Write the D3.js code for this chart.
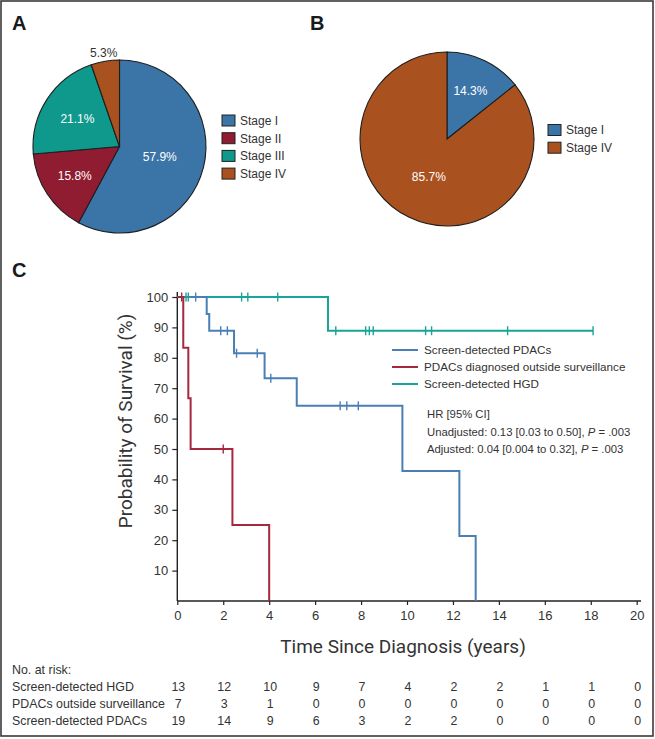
<!DOCTYPE html>
<html><head><meta charset="utf-8">
<script src="https://cdn.jsdelivr.net/npm/d3@7"></script>
<style>body{margin:0;background:#fff}svg{display:block}</style>
</head><body>
<svg id="c" width="655" height="739"></svg>
<script>
// ---- Data ----
const stagesA = ["Stage I","Stage II","Stage III","Stage IV"];
const valuesA = [57.9, 15.8, 21.1, 5.3];
const stagesB = ["Stage I","Stage IV"];
const valuesB = [14.3, 85.7];
const stageColors = {"Stage I":"#3b74a7","Stage II":"#8f1c30","Stage III":"#0f998c","Stage IV":"#a9521f"};

const seriesNames = ["Screen-detected PDACs","PDACs diagnosed outside surveillance","Screen-detected HGD"];
const seriesColors = ["#4a7fb6","#a4283e","#1aa398"];
// KM step points [time (years), survival %]
const kmPDAC = [[0,100],[1.28,94.4],[1.39,88.9],[2.47,81.5],[3.8,73.3],[5.2,64.2],[9.8,42.8],[12.28,21.4],[12.99,0]];
const kmOutside = [[0,100],[0.26,83.3],[0.48,66.7],[0.58,50],[2.4,25],[4.0,0]];
const kmHGD = [[0,100],[6.56,88.9],[18.1,88.9]];
const censorPDAC = [0.8,1.89,2.18,2.58,3.48,4.07,7.09,7.38,7.88];
const censorOutside = [0.19,2.0];
const censorHGD = [0.38,0.48,2.8,3.07,4.37,6.9,8.2,8.36,8.53,10.81,11.07,14.38,18.1];

const xTicks = [0,2,4,6,8,10,12,14,16,18,20];
const yTicks = [10,20,30,40,50,60,70,80,90,100];
const riskRows = ["Screen-detected HGD","PDACs outside surveillance","Screen-detected PDACs"];
const riskHGD = [13,12,10,9,7,4,2,2,1,1,0];
const riskOutside = [7,3,1,0,0,0,0,0,0,0,0];
const riskPDAC = [19,14,9,6,3,2,2,0,0,0,0];
const hrLines = ["HR [95% CI]","Unadjusted: 0.13 [0.03 to 0.50], ","Adjusted: 0.04 [0.004 to 0.32], "];

// ---- Drawing ----
const svg = d3.select("#c");
const FONT = "'Liberation Sans', Arial, sans-serif";
svg.append("rect").attr("x",1).attr("y",1).attr("width",652).attr("height",735)
  .attr("fill","#fff").attr("stroke","#3a3a3a").attr("stroke-width",1.6);

// panel letters
[["A",12,30],["B",310,30],["C",12,277]].forEach(([t,x,y])=>{
  svg.append("text").attr("x",x).attr("y",y).text(t).attr("font-family",FONT)
    .attr("font-weight","bold").attr("font-size",20).attr("fill","#1a1a1a");
});

function drawPie(cx, cy, r, cats, vals, labelPos, legendX, legendY){
  const g = svg.append("g").attr("transform",`translate(${cx},${cy})`);
  const pie = d3.pie().sort(null).value(d=>d.v);
  const arcs = pie(cats.map((c,i)=>({c, v: vals[i], i})));
  const arc = d3.arc().innerRadius(0).outerRadius(r);
  g.selectAll("path").data(arcs).join("path").attr("d",arc)
    .attr("fill",d=>stageColors[d.data.c]).attr("stroke","#1e1e1e").attr("stroke-width",1.1);
  arcs.forEach((a,i)=>{
    const lp = labelPos[i];
    const rr = lp.k * r;
    const ang = (a.startAngle + a.endAngle)/2;
    const x = Math.sin(ang)*rr, y = -Math.cos(ang)*rr;
    g.append("text").attr("x",x).attr("y",y).attr("dy","0.35em").attr("text-anchor","middle")
      .attr("font-family",FONT).attr("font-size",12)
      .attr("fill",lp.out?"#333":"#fff").text(a.data.v.toFixed(1)+"%");
  });
  const lg = svg.append("g").attr("transform",`translate(${legendX},${legendY})`);
  cats.forEach((c,i)=>{
    lg.append("rect").attr("x",0).attr("y",i*17.7-5.5).attr("width",13).attr("height",11)
      .attr("fill",stageColors[c]).attr("stroke","#222").attr("stroke-width",1);
    lg.append("text").attr("x",18).attr("y",i*17.7).attr("dy","0.36em").attr("font-family",FONT)
      .attr("font-size",12).attr("fill","#333").text(c);
  });
}
drawPie(119.5,146.5,86.5,stagesA,valuesA,
  [{k:0.48},{k:0.62},{k:0.58},{k:1.1,out:true}],222,120.5);
drawPie(447,139,87,stagesB,valuesB,[{k:0.62},{k:0.48}],548,130);

// ---- KM plot ----
const x = d3.scaleLinear().domain([0,20]).range([177.3,636.7]);
const y = d3.scaleLinear().domain([0,100]).range([601,297]);

const xAxis = svg.append("g").attr("transform","translate(0,601)")
  .call(d3.axisBottom(x).tickValues(xTicks).tickSize(4).tickPadding(6).tickSizeOuter(0));
xAxis.select(".domain").attr("d",`M${x(0)},0H641`);
const yAxis = svg.append("g").attr("transform",`translate(${x(0)},0)`)
  .call(d3.axisLeft(y).tickValues(yTicks).tickSize(5).tickPadding(4).tickSizeOuter(0));
yAxis.select(".domain").attr("d",`M0,292V601`);
[xAxis,yAxis].forEach(a=>{
  a.select(".domain").attr("stroke","#222").attr("stroke-width",1.4);
  a.selectAll(".tick line").attr("stroke","#222").attr("stroke-width",1.2);
  a.selectAll(".tick text").attr("font-family",FONT).attr("font-size",13).attr("fill","#333");
});

svg.append("text").attr("transform","translate(132,421) rotate(-90)").attr("text-anchor","middle")
  .attr("font-family","Roboto, sans-serif").attr("font-size",19).attr("fill","#333")
  .text("Probability of Survival (%)");
svg.append("text").attr("x",403).attr("y",653).attr("text-anchor","middle")
  .attr("font-family","Roboto, sans-serif").attr("font-size",19).attr("fill","#333")
  .text("Time Since Diagnosis (years)");

const line = d3.line().x(d=>x(d[0])).y(d=>y(d[1])).curve(d3.curveStepAfter);
function survAt(km, t){ let s = km[0][1]; for(const p of km){ if(p[0] <= t) s = p[1]; } return s; }
const kms = [kmHGD, kmPDAC, kmOutside];
const cens = [censorHGD, censorPDAC, censorOutside];
const cols = [seriesColors[2], seriesColors[0], seriesColors[1]];
kms.forEach((km,i)=>{
  svg.append("path").attr("d",line(km)).attr("fill","none").attr("stroke",cols[i]).attr("stroke-width",2);
});
kms.forEach((km,i)=>{
  cens[i].forEach(t=>{
    const s = survAt(km,t);
    svg.append("line").attr("x1",x(t)).attr("x2",x(t)).attr("y1",y(s)-4.5).attr("y2",y(s)+4.5)
      .attr("stroke",cols[i]).attr("stroke-width",1.4);
  });
});

// legend
seriesNames.forEach((n,i)=>{
  const yy = 350 + i*17;
  svg.append("line").attr("x1",392).attr("x2",418).attr("y1",yy).attr("y2",yy)
    .attr("stroke",seriesColors[i]).attr("stroke-width",2);
  svg.append("text").attr("x",424).attr("y",yy).attr("dy","0.36em").attr("font-family",FONT)
    .attr("font-size",11.7).attr("fill","#333").text(n);
});

// HR annotation
hrLines.forEach((t,i)=>{
  const tx = svg.append("text").attr("x",427).attr("y",418+i*17.5).attr("font-family",FONT)
    .attr("font-size",11.3).attr("fill","#333");
  tx.append("tspan").text(t);
  if(i>0){
    tx.append("tspan").attr("font-style","italic").text("P");
    tx.append("tspan").text(" = .003");
  }
});

// risk table
const RF = 12.4;
svg.append("text").attr("x",12).attr("y",674).attr("font-family",FONT).attr("font-size",RF)
  .attr("fill","#333").text("No. at risk:");
const riskData = [riskHGD, riskOutside, riskPDAC];
riskRows.forEach((r,i)=>{
  const yy = 690.5 + i*17;
  svg.append("text").attr("x",12).attr("y",yy).attr("font-family",FONT).attr("font-size",RF)
    .attr("fill","#333").text(r);
  riskData[i].forEach((v,j)=>{
    svg.append("text").attr("x",x(xTicks[j])+1).attr("y",yy).attr("text-anchor","middle")
      .attr("font-family",FONT).attr("font-size",RF).attr("fill","#333").text(v);
  });
});
</script>
</body></html>
